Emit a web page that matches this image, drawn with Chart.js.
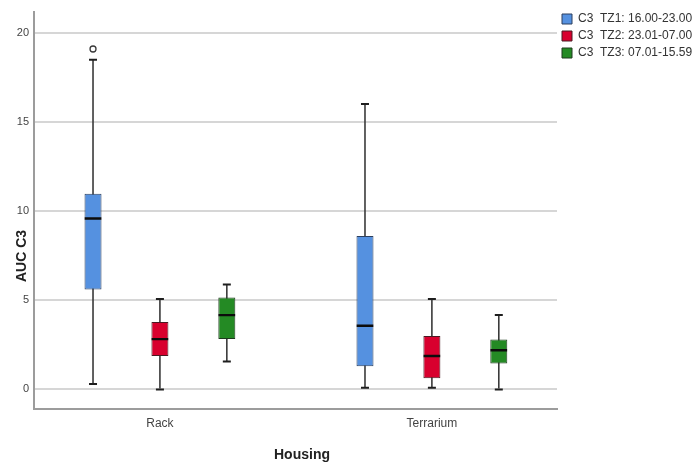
<!DOCTYPE html>
<html>
<head>
<meta charset="utf-8">
<script src="https://cdn.jsdelivr.net/npm/chart.js@4/dist/chart.umd.min.js"></script>
<style>
  html, body { margin: 0; padding: 0; background: #fff; }
  #wrap { width: 694px; height: 467px; position: relative; }
</style>
</head>
<body>
<div id="wrap"><canvas id="chart"></canvas></div>
<script>
// Housing groups on the x axis
const categories = ['Rack', 'Terrarium'];
// Time-zone series (legend entries)
const seriesLabels = ['C3  TZ1: 16.00-23.00', 'C3  TZ2: 23.01-07.00', 'C3  TZ3: 07.01-15.59'];

// Box-plot statistics: one row per series, one value per housing group
const whiskerLow  = [[0.30, 0.09], [0.00, 0.09], [1.56, 0.00]];
const quartile1   = [[5.61, 1.30], [1.87, 0.63], [2.83, 1.46]];
const medians     = [[9.59, 3.57], [2.82, 1.87], [4.17, 2.20]];
const quartile3   = [[10.98, 8.61], [3.78, 3.00], [5.15, 2.80]];
const whiskerHigh = [[18.50, 16.02], [5.07, 5.07], [5.89, 4.17]];
const outliers    = [[[19.10], []], [[], []], [[], []]];

const yTicks = [0, 5, 10, 15, 20];

// Styling
const boxFill   = ['#5591e0', '#d8002e', '#248a24'];
const boxBorder = ['#2c3f5e', '#4a1a22', '#1e3a1e'];
const seriesShift = [-0.246, 0, 0.246]; // horizontal offset of each series inside a group
const FONT = "'Liberation Sans', Arial, Helvetica, sans-serif";

const xOf = (s, i) => i + seriesShift[s];

const boxDatasets = seriesLabels.map((label, s) => ({
  type: 'bar',
  label,
  data: categories.map((c, i) => ({ x: xOf(s, i), y: [quartile1[s][i], quartile3[s][i]] })),
  backgroundColor: boxFill[s],
  borderColor: boxBorder[s],
  borderWidth: 1,
  borderSkipped: false,
  grouped: false,
  maxBarThickness: 17,
  order: 2
}));

const whiskerData = [];
const capData = [];
const medianData = [];
const outlierData = [];
seriesLabels.forEach((_, s) => {
  categories.forEach((c, i) => {
    const x = xOf(s, i);
    whiskerData.push({ x, y: [whiskerLow[s][i], whiskerHigh[s][i]] });
    capData.push({ x, y: whiskerLow[s][i] }, { x, y: whiskerHigh[s][i] });
    medianData.push({ x, y: medians[s][i] });
    outliers[s][i].forEach(v => outlierData.push({ x, y: v }));
  });
});

const datasets = [
  ...boxDatasets,
  {
    type: 'bar', label: 'whiskers', data: whiskerData,
    backgroundColor: '#3a3a3a', borderWidth: 0,
    grouped: false, maxBarThickness: 1.6, order: 3
  },
  {
    type: 'scatter', label: 'caps', data: capData,
    pointStyle: 'line', pointRadius: 4, pointBorderWidth: 2,
    pointBorderColor: '#1e1e1e', order: 1
  },
  {
    type: 'scatter', label: 'medians', data: medianData,
    pointStyle: 'line', pointRadius: 8.3, pointBorderWidth: 2.4,
    pointBorderColor: '#0c0c0c', order: 0
  },
  {
    type: 'scatter', label: 'outliers', data: outlierData,
    pointStyle: 'circle', pointRadius: 3, pointBorderWidth: 1.3,
    pointBackgroundColor: '#ffffff', pointBorderColor: '#3a3a3a', order: 0
  }
];

// Axis titles placed as in the SPSS layout
const axisTitles = {
  id: 'axisTitles',
  afterDraw(chart) {
    const { ctx, chartArea } = chart;
    ctx.save();
    ctx.fillStyle = '#222';
    ctx.font = `bold 14px ${FONT}`;
    ctx.textAlign = 'center';
    ctx.textBaseline = 'middle';
    ctx.fillText('Housing', chartArea.left + 268, chartArea.bottom + 46);
    ctx.translate(chartArea.left - 12, chartArea.bottom - 153);
    ctx.rotate(-Math.PI / 2);
    ctx.fillText('AUC C3', 0, 0);
    ctx.restore();
  }
};

new Chart(document.getElementById('chart'), {
  type: 'bar',
  data: { datasets },
  plugins: [axisTitles],
  options: {
    responsive: true,
    maintainAspectRatio: false,
    animation: false,
    layout: { padding: { top: 8, right: 0, bottom: 0, left: 0 } },
    plugins: {
      tooltip: { enabled: false },
      legend: {
        position: 'right',
        align: 'start',
        maxWidth: 137,
        labels: {
          filter: item => item.datasetIndex < seriesLabels.length,
          boxWidth: 10,
          boxHeight: 10,
          padding: 5,
          color: '#333',
          font: { family: FONT, size: 12 }
        }
      }
    },
    scales: {
      x: {
        type: 'linear',
        offset: false,
        min: -0.463,
        max: 1.46,
        afterBuildTicks: scale => { scale.ticks = categories.map((c, i) => ({ value: i })); },
        afterFit: scale => { scale.height = 58; },
        ticks: {
          callback: v => categories[v] ?? '',
          padding: 7,
          color: '#444',
          font: { family: FONT, size: 12 },
          maxRotation: 0
        },
        grid: { display: false, drawTicks: false },
        border: { display: true, color: '#9c9c9c', width: 2 }
      },
      y: {
        min: -1.1,
        max: 21.2,
        afterBuildTicks: scale => { scale.ticks = yTicks.map(v => ({ value: v })); },
        afterFit: scale => { scale.width = 34; },
        ticks: {
          padding: 5,
          color: '#444',
          font: { family: FONT, size: 11 }
        },
        grid: { color: '#d6d6d6', lineWidth: 2, drawTicks: false },
        border: { display: true, color: '#9c9c9c', width: 2 }
      }
    }
  }
});
</script>
</body>
</html>
